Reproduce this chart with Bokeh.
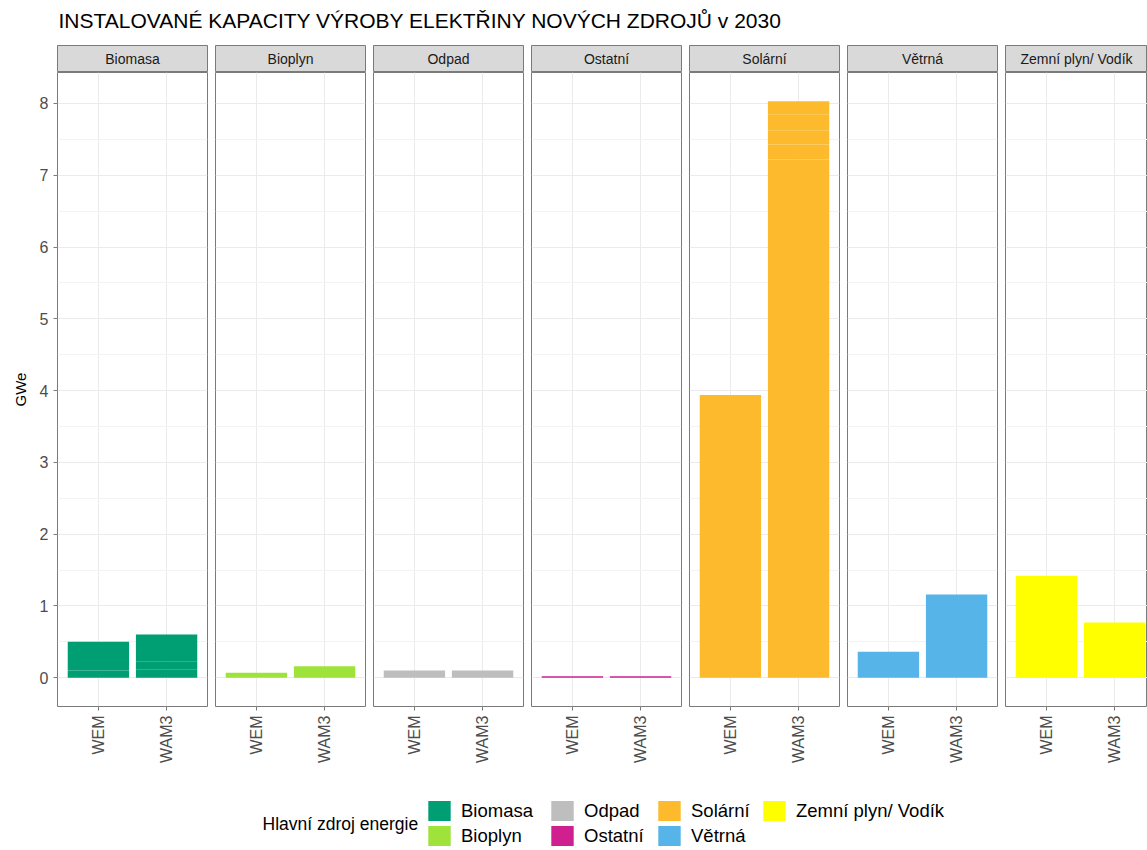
import numpy as np
from math import pi
from bokeh.plotting import figure
from bokeh.layouts import row, column
from bokeh.models import (Range1d, FixedTicker, Label, Legend, LegendItem)
from bokeh.embed import file_html
from bokeh.resources import INLINE

# ---------------- data ----------------
title_text = "INSTALOVANÉ KAPACITY VÝROBY ELEKTŘINY NOVÝCH ZDROJŮ v 2030"
y_label = "GWe"
legend_title = "Hlavní zdroj energie"
facets = ["Biomasa", "Bioplyn", "Odpad", "Ostatní", "Solární", "Větrná", "Zemní plyn/ Vodík"]
scenarios = ["WEM", "WAM3"]
colors = ["#009E73", "#9FE23A", "#BEBEBE", "#D02090", "#FDBA2C", "#56B4E9", "#FFFF00"]
y_ticks = [0, 1, 2, 3, 4, 5, 6, 7, 8]

# stacked sub-segments (GWe) of each bar: [WEM, WAM3]
biomasa = [[0.10, 0.05, 0.35], [0.11, 0.08, 0.04, 0.37]]
bioplyn = [[0.07], [0.16]]
odpad = [[0.10], [0.10]]
ostatni = [[0.02], [0.02]]
solarni = [[3.94], [7.22, 0.21, 0.19, 0.23, 0.18]]
vetrna = [[0.36], [1.16]]
zemni = [[1.42], [0.77]]
values = [biomasa, bioplyn, odpad, ostatni, solarni, vetrna, zemni]

# ---------------- style ----------------
FONT = "Liberation Sans"
BORDER = "#7a7a7a"
GRID = "#ebebeb"
MINOR = "#f3f3f3"
TICK_TXT = "#4d4d4d"

ymax = max(float(np.sum(s)) for v in values for s in v)
pad = 0.05 * ymax
y_lo, y_hi = -pad, ymax + pad
n = len(scenarios)
x_lo, x_hi = 1 - 0.6, n + 0.6
minor_y = [t + 0.5 for t in y_ticks[:-1]]

FW = 150
LEFT = 57
frame_widths = [FW] * 6 + [142]

cols = []
for i, facet in enumerate(facets):
    fw = frame_widths[i]
    left = LEFT if i == 0 else 0
    right = 8 if i < 6 else 0
    x_end = x_lo + (x_hi - x_lo) * fw / FW

    strip = figure(frame_width=fw, frame_height=27, min_border=0,
                   min_border_left=left, min_border_right=right,
                   x_range=Range1d(0, 1), y_range=Range1d(0, 1),
                   x_axis_location=None, y_axis_location=None,
                   toolbar_location=None, output_backend="svg",
                   background_fill_color="#d9d9d9", border_fill_color="white",
                   outline_line_color=BORDER, outline_line_width=1)
    strip.xgrid.visible = False
    strip.ygrid.visible = False
    strip.add_layout(Label(x=0.5, y=0.5, text=facet, text_align="center",
                           text_baseline="middle", text_font=FONT,
                           text_font_size="14px", text_color="#1a1a1a"))

    p = figure(frame_width=fw, frame_height=634, min_border=0,
               min_border_left=left, min_border_right=right, min_border_bottom=60,
               x_range=Range1d(x_lo, x_end), y_range=Range1d(y_lo, y_hi),
               y_axis_location="left" if i == 0 else None,
               toolbar_location=None, output_backend="svg",
               background_fill_color="white", border_fill_color="white",
               outline_line_color=BORDER, outline_line_width=1)

    for j, segs in enumerate(values[i]):
        segs = np.array(segs, dtype=float)
        tops = np.cumsum(segs)
        bottoms = tops - segs
        p.vbar(x=[j + 1] * len(segs), bottom=bottoms, top=tops, width=0.9,
               fill_color=colors[i], line_color=None)

    xa = p.xaxis[0]
    xa.ticker = FixedTicker(ticks=list(range(1, n + 1)))
    xa.major_label_overrides = {k + 1: s for k, s in enumerate(scenarios)}
    xa.major_label_orientation = pi / 2
    xa.axis_line_color = None
    xa.major_tick_line_color = BORDER
    xa.major_tick_out = 4
    xa.major_tick_in = 0
    xa.minor_tick_line_color = None
    xa.major_label_text_font = FONT
    xa.major_label_text_font_size = "16px"
    xa.major_label_text_color = TICK_TXT
    xa.major_label_standoff = 5

    p.xgrid.ticker = FixedTicker(ticks=list(range(1, n + 1)))
    p.xgrid.grid_line_color = GRID
    p.ygrid.ticker = FixedTicker(ticks=y_ticks, minor_ticks=minor_y)
    p.ygrid.grid_line_color = GRID
    p.ygrid.minor_grid_line_color = MINOR

    if i == 0:
        ya = p.yaxis[0]
        ya.ticker = FixedTicker(ticks=y_ticks)
        ya.axis_line_color = None
        ya.major_tick_line_color = BORDER
        ya.major_tick_out = 4
        ya.major_tick_in = 0
        ya.minor_tick_line_color = None
        ya.major_label_text_font = FONT
        ya.major_label_text_font_size = "16px"
        ya.major_label_text_color = TICK_TXT
        ya.major_label_standoff = 5
        ya.axis_label = y_label
        ya.axis_label_text_font = FONT
        ya.axis_label_text_font_size = "15px"
        ya.axis_label_text_font_style = "normal"
        ya.axis_label_text_color = "black"
        ya.axis_label_standoff = 8

    cols.append(column(strip, p))

TOTAL_W = LEFT + 6 * (FW + 8) + frame_widths[-1]

# ---------------- header ----------------
hdr = figure(width=TOTAL_W, height=45, min_border=0,
             x_range=Range1d(0, 1), y_range=Range1d(0, 1),
             x_axis_location=None, y_axis_location=None,
             toolbar_location=None, output_backend="svg", outline_line_color=None)
hdr.xgrid.visible = False
hdr.ygrid.visible = False
hdr.add_layout(Label(x=58, y=14, x_units="screen", y_units="screen", text=title_text,
                     text_font=FONT, text_font_size="21px", text_color="black"))

# ---------------- legend ----------------
leg = figure(width=TOTAL_W, height=84, min_border=0,
             x_range=Range1d(0, 1), y_range=Range1d(0, 1),
             x_axis_location=None, y_axis_location=None,
             toolbar_location=None, output_backend="svg", outline_line_color=None)
leg.xgrid.visible = False
leg.ygrid.visible = False
# legend-only renderers, drawn outside the visible range
rends = [leg.vbar(x=[-5], bottom=[-5], top=[-4], width=0.9, fill_color=c, line_color=None)
         for c in colors]
leg.add_layout(Label(x=262, y=27, x_units="screen", y_units="screen", text=legend_title,
                     text_baseline="middle", text_font=FONT, text_font_size="17.5px",
                     text_color="black"))
groups = [[0, 1], [2, 3], [4, 5], [6]]
gx = [425, 548, 655, 760]
for g, x in zip(groups, gx):
    lg = Legend(items=[LegendItem(label=facets[k], renderers=[rends[k]]) for k in g],
                location=(x, 2 if len(g) == 2 else 27), orientation="vertical",
                glyph_width=28, glyph_height=25, label_height=25, label_standoff=8,
                spacing=0, padding=0, margin=0, border_line_color=None,
                background_fill_alpha=0, label_text_font=FONT,
                label_text_font_size="18.5px", label_text_color="black")
    leg.add_layout(lg, "center")

layout = column(hdr, row(*cols), leg)
open("out.html", "w").write(file_html(layout, INLINE))
